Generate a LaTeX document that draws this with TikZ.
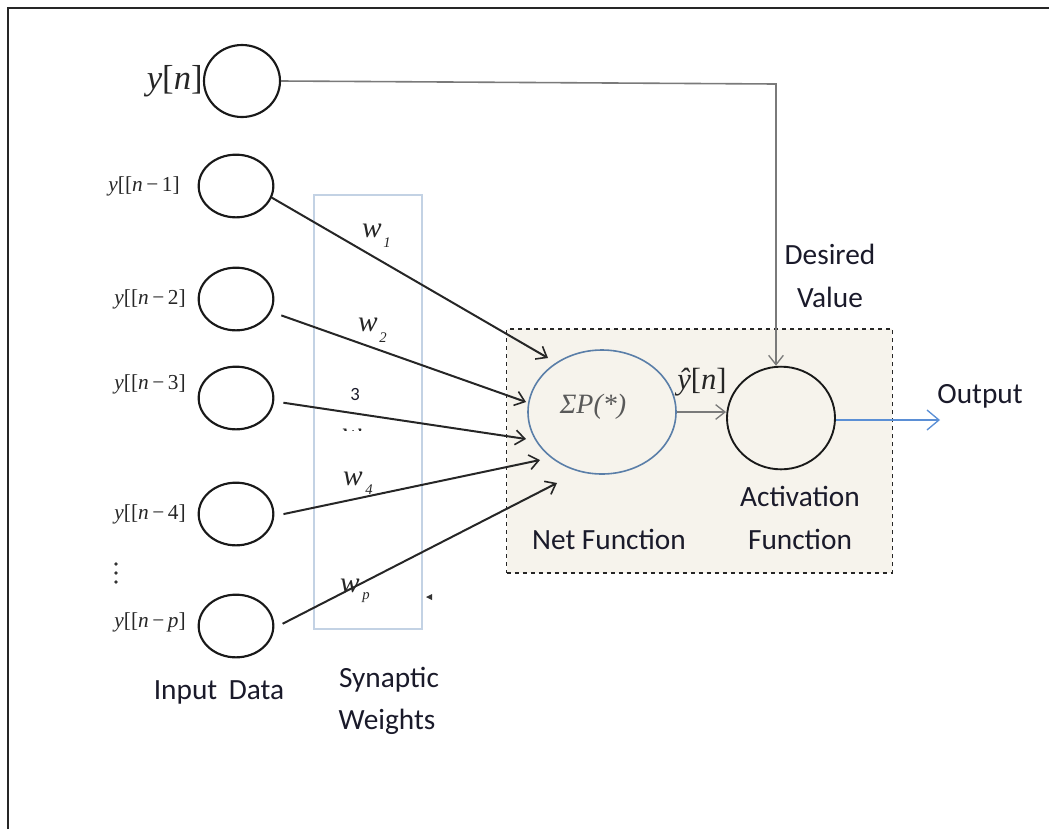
\documentclass[tikz,border=0pt]{standalone}
\usepackage{fontspec}
\setmainfont{Liberation Serif}
\newfontfamily\calib{Carlito}
\usetikzlibrary{arrows.meta,shapes.geometric}
\definecolor{boxfill}{HTML}{F6F3EC}
\definecolor{netblue}{HTML}{5A7EA8}
\definecolor{outblue}{HTML}{5B8FD5}
\definecolor{synrect}{HTML}{C3D2E4}
\definecolor{txt}{HTML}{1A1A2A}
\definecolor{lgray}{HTML}{7A7A7A}
\begin{document}
\begin{tikzpicture}[x=0.75pt,y=-0.75pt,
  inp/.style={draw=black!90, line width=1.6pt, ellipse, minimum width=56pt, minimum height=47pt, inner sep=0pt},
  synarrow/.style={draw=black!85, line width=1.5pt, -{Straight Barb[length=7pt,width=11pt,line width=1.2pt]}},
  ylab/.style={font=\fontsize{16}{18}\selectfont, text=black!85, anchor=east, inner sep=0pt},
  sans/.style={font=\calib\fontsize{22}{26}\selectfont, text=txt, inner sep=0pt},
  wlab/.style={font=\fontsize{22}{24}\selectfont\itshape, text=black!85, inner sep=0pt},
  wsub/.style={font=\fontsize{11}{12}\selectfont\itshape, text=black!85, inner sep=0pt}
]
\useasboundingbox (0,0) rectangle (1049,829);
% frame
\draw[line width=1pt, black!85] (8,829) -- (8,8) -- (1049,8);

% processing box
\node[draw=black!85, dashed, line width=0.9pt, fill=boxfill, minimum width=289pt, minimum height=183pt, inner sep=0pt] (pbox) at (699.5,451) {};

% synaptic weights rectangle
\node[draw=synrect, line width=1.2pt, minimum width=81pt, minimum height=325.5pt, inner sep=0pt] (wrect) at (368,412) {};

% input circles
\node[inp, minimum width=57pt, minimum height=54pt] (yn) at (242,81) {};
\node[inp] (x1) at (236,186) {};
\node[inp] (x2) at (236,299) {};
\node[inp] (x3) at (236,398) {};
\node[inp] (x4) at (236,514) {};
\node[inp] (x5) at (236,626) {};

% input labels
\node[font=\fontsize{26}{30}\selectfont, text=black!85, anchor=east, inner sep=0pt] (ynl) at (yn.west) {{\itshape y}[{\itshape n}]};
\node[ylab] (l1) at (180,186) {{\itshape y}[[{\itshape n}\,−\,1]};
\node[ylab] (l2) at (186,299) {{\itshape y}[[{\itshape n}\,−\,2]};
\node[ylab] (l3) at (186,384) {{\itshape y}[[{\itshape n}\,−\,3]};
\node[ylab] (l4) at (186,514) {{\itshape y}[[{\itshape n}\,−\,4]};
\node[ylab] (l5) at (186,622) {{\itshape y}[[{\itshape n}\,−\,{\itshape p}]};
\fill[black!80] (116,564) circle (1.8) (116,573) circle (1.8) (116,582) circle (1.8);

% net function and activation
\node[draw=netblue, line width=1.2pt, ellipse, minimum width=111pt, minimum height=93pt, inner sep=0pt] (sigma) at (602,412) {};
\node[font=\fontsize{21}{24}\selectfont\itshape, text=black!65, inner sep=0pt] (sigt) at (593,407) {ΣP(*)};
\node[draw=black!90, line width=1.4pt, ellipse, minimum width=81pt, minimum height=77pt, inner sep=0pt] (act) at (781,418) {};

% tips of synaptic arrows
\coordinate (t1) at (548,358);
\coordinate (t2) at (526,402);
\coordinate (t3) at (526,439);
\coordinate (t4) at (540,460);
\coordinate (t5) at (557,483);

\draw[synarrow] (x1.-18) -- (t1);
\draw[synarrow, shorten <=8pt] (x2.-20) -- (t2);
\draw[synarrow, shorten <=7pt] (x3.-5) -- (t3);
\draw[synarrow, shorten <=7pt] (x4.-3) -- (t4);
\draw[synarrow, shorten <=7pt] (x5.-3) -- (t5);

% weight labels
\node[wlab] (w1) at (372,231) {w};
\node[wsub] (w1s) at (387,243) {1};
\node[wlab] (w2) at (368,325) {w};
\node[wsub] (w2s) at (383,338) {2};
\node[font=\calib\fontsize{14}{16}\selectfont, text=txt, inner sep=0pt] (w3s) at (355,394) {3};
\begin{scope}
\clip (335,421) rectangle (372,430);
\node[wlab] (w3) at (352,436) {w};
\end{scope}
\node[wlab] (w4) at (353,479) {w};
\node[wsub] (w4s) at (369,490) {4};
\node[wlab] (w5) at (350,586) {w};
\node[wsub] (w5s) at (366,598) {p};
% small marker
\coordinate (mk) at (426,597);
\fill[black!80] (mk) -- ++(6,-3) -- ++(0,6) -- cycle;

% y-hat
\draw[lgray, line width=1.1pt, -{Straight Barb[length=7pt,width=11pt,line width=1pt]}] (sigma.east) -- (act.west |- sigma.east);
\node[font=\fontsize{23}{26}\selectfont, text=black!85, inner sep=0pt] (yhat) at (702,382) {{\itshape ŷ}[{\itshape n}]};

% desired value
\coordinate (corner) at (776,84);
\draw[lgray, line width=1.2pt, -{Straight Barb[length=7pt,width=11pt,line width=1pt]}] (yn.east) -- (corner) -- (act.north -| corner);
\node[sans] (des) at (830,254) {Desired};
\node[sans] (val) at (830,297) {Value};

% output
\coordinate (outend) at (940,420);
\draw[outblue, line width=1.1pt, -{Straight Barb[length=9pt,width=15pt,line width=1pt]}] (act.east |- outend) -- (outend);
\node[sans] (outl) at (980,396) {Output};

% texts
\node[sans] (netl) at (609,539) {Net Function};
\node[sans] (actl1) at (800,496) {Activation};
\node[sans] (actl2) at (800,539) {Function};
\node[sans] (inl) at (219,692) {Input\, Data};
\node[sans] (synl1) at (389,680) {Synaptic};
\node[sans] (synl2) at (387,722) {Weights};
\end{tikzpicture}
\end{document}
